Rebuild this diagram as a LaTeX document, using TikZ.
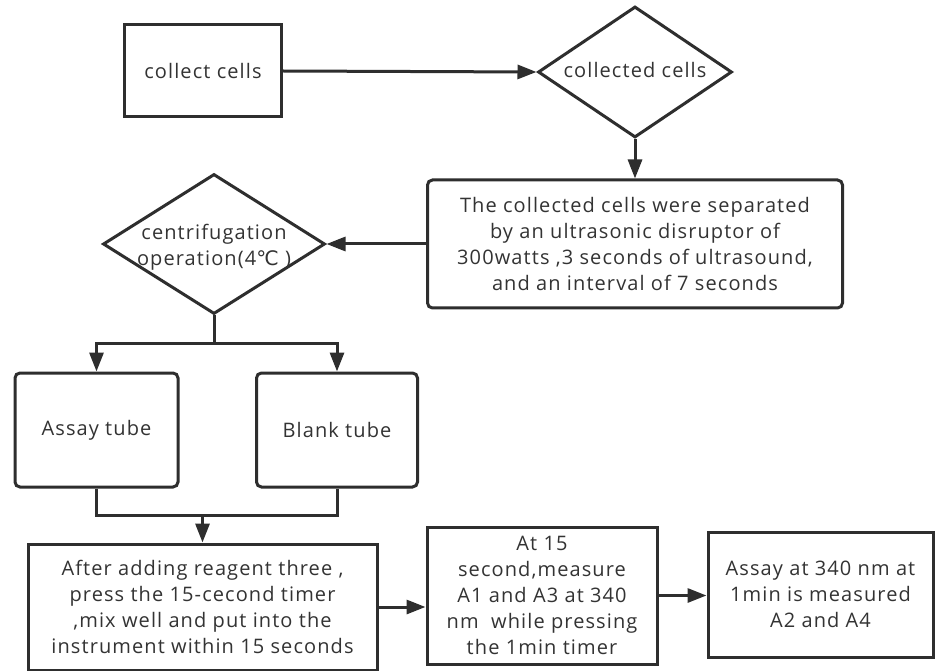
\documentclass[tikz,border=0pt]{standalone}
\usepackage{fontspec}
\setmainfont[LetterSpace=5.5]{Open Sans}
\newfontfamily\dejavu{DejaVu Sans}
\usetikzlibrary{arrows.meta,shapes.geometric}
\definecolor{ln}{HTML}{2E2E2E}
\definecolor{tx}{HTML}{333333}
\begin{document}
\begin{tikzpicture}[x=1pt,y=-1pt,
  every node/.style={font=\fontsize{20}{26}\selectfont, text=tx},
  box/.style={draw=ln, line width=3pt, inner sep=0pt, align=center},
  rbox/.style={box, rounded corners=5pt},
  dia/.style={draw=ln, line width=3pt, diamond, inner sep=0pt},
  arr/.style={draw=ln, line width=3pt, -{Triangle[length=19pt,width=14pt]}},
  conn/.style={draw=ln, line width=3pt}]
\useasboundingbox (0,0) rectangle (935,671);
\fill[white] (0,0) rectangle (935,671);

\node[box, minimum width=157pt, minimum height=92pt] (c1) at (203,71) {collect cells};
\node[dia, minimum width=194pt, minimum height=131pt] (d1) at (635,72) {\smash{\raisebox{-6pt}{\makebox[0pt]{collected cells}}}};
\node[rbox, minimum width=415pt, minimum height=128pt] (b2) at (635,244)
  {The collected cells were separated\\by an ultrasonic disruptor of\\300watts ,3 seconds of ultrasound,\\and an interval of 7 seconds};
\node[dia, minimum width=222pt, minimum height=140pt] (d2) at (214,244)
  {\smash{\raisebox{-8pt}{\makebox[0pt]{\begin{tabular}{@{}c@{}}centrifugation\\operation(4{\dejavu ℃} )\end{tabular}}}}};
\node[rbox, minimum width=163pt, minimum height=114pt] (at) at (96.5,430) {Assay tube};
\node[rbox, minimum width=161pt, minimum height=114pt] (bt) at (337,430) {Blank tube};
\node[box, minimum width=349pt, minimum height=126pt] (af) at (202.5,607)
  {After adding reagent three ,\\ press the 15-cecond timer\\,mix well and put into the\\instrument within 15 seconds};
\node[box, minimum width=230pt, minimum height=137pt] (a15) at (542,595.5)
  {At 15\\second,measure\\A1 and A3 at 340\\nm\ \ while pressing\\the 1min timer};
\node[box, minimum width=225pt, minimum height=125pt] (a340) at (820.5,594.5)
  {Assay at 340 nm at\\1min is measured\\A2 and A4};

\draw[arr] (c1.east) -- (d1.west);
\draw[arr] (d1.south) -- (b2.north);
\draw[arr] (b2.west) -- (d2.east);
\coordinate (j1) at (214,343);
\draw[conn] (d2.south) -- (j1);
\draw[arr] (j1) -| (at.north);
\draw[arr] (j1) -| (bt.north);
\coordinate (j2) at (202.5,515);
\draw[conn] (at.south) |- (j2);
\draw[conn] (bt.south) |- (j2);
\draw[arr] (j2) -- (af.north);
\draw[arr] (af.east) -- (af.east -| a15.west);
\draw[arr] (a15.east) -- (a15.east -| a340.west);
\end{tikzpicture}
\end{document}
